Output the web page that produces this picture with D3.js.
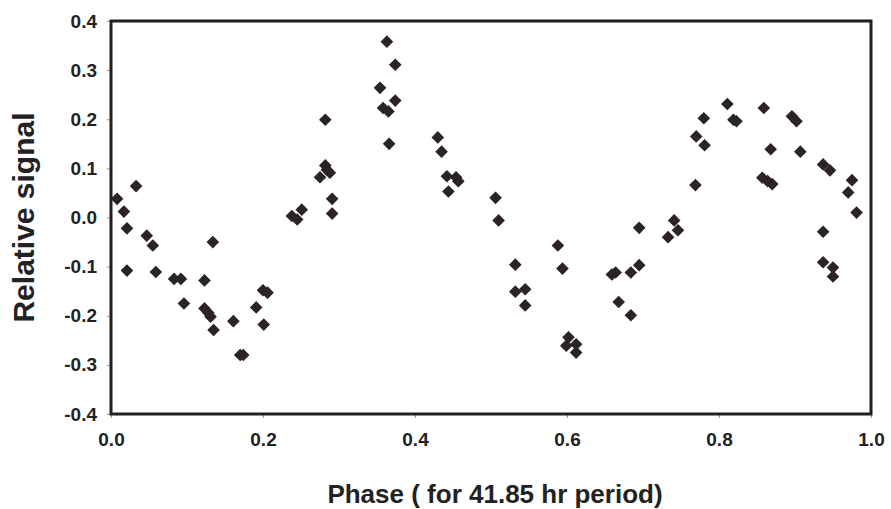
<!DOCTYPE html>
<html>
<head>
<meta charset="utf-8">
<script src="https://cdn.jsdelivr.net/npm/d3@7"></script>
<style>
  body { margin: 0; background: #fff; }
</style>
</head>
<body>
<div class="container"></div>
<script>
// data
var phase = [0.008, 0.017, 0.021, 0.021, 0.033, 0.047, 0.055, 0.059, 0.083, 0.092,
  0.096, 0.123, 0.123, 0.128, 0.131, 0.134, 0.135, 0.161, 0.170, 0.174,
  0.191, 0.200, 0.201, 0.206, 0.238, 0.245, 0.251, 0.275, 0.282, 0.282,
  0.284, 0.288, 0.291, 0.291, 0.354, 0.358, 0.363, 0.365, 0.366, 0.374,
  0.374, 0.430, 0.435, 0.442, 0.444, 0.454, 0.457, 0.506, 0.510, 0.532,
  0.532, 0.545, 0.545, 0.588, 0.594, 0.599, 0.602, 0.612, 0.612, 0.659,
  0.664, 0.668, 0.684, 0.684, 0.695, 0.695, 0.733, 0.741, 0.746, 0.769,
  0.770, 0.780, 0.781, 0.811, 0.819, 0.823, 0.857, 0.859, 0.864, 0.868,
  0.870, 0.896, 0.902, 0.907, 0.937, 0.937, 0.937, 0.946, 0.950, 0.950,
  0.970, 0.975, 0.981];
var signal = [0.038, 0.012, -0.022, -0.108, 0.064, -0.037, -0.057, -0.111, -0.125, -0.125,
  -0.175, -0.128, -0.185, -0.194, -0.202, -0.050, -0.229, -0.211, -0.280, -0.280,
  -0.183, -0.148, -0.218, -0.153, 0.003, -0.004, 0.016, 0.082, 0.199, 0.106,
  0.097, 0.091, 0.038, 0.008, 0.264, 0.223, 0.358, 0.216, 0.150, 0.311,
  0.238, 0.163, 0.134, 0.084, 0.053, 0.082, 0.074, 0.040, -0.006, -0.096,
  -0.151, -0.146, -0.179, -0.057, -0.104, -0.261, -0.244, -0.258, -0.275, -0.116,
  -0.112, -0.172, -0.112, -0.199, -0.097, -0.021, -0.040, -0.006, -0.026, 0.066,
  0.165, 0.202, 0.147, 0.231, 0.199, 0.196, 0.081, 0.223, 0.074, 0.139,
  0.068, 0.206, 0.196, 0.134, 0.108, -0.029, -0.091, 0.096, -0.102, -0.120,
  0.051, 0.076, 0.010];
var xTicks = [0, 0.2, 0.4, 0.6, 0.8, 1.0];
var yTicks = [-0.4, -0.3, -0.2, -0.1, 0, 0.1, 0.2, 0.3, 0.4];

var margin = {top: 21, right: 20, bottom: 95, left: 111},
    width = 891,
    height = 509;

var svg = d3.select(".container").append("svg")
    .attr("width", width)
    .attr("height", height);

var x = d3.scaleLinear().domain([0, 1]).range([margin.left, width - margin.right]);
var y = d3.scaleLinear().domain([-0.4, 0.4]).range([height - margin.bottom, margin.top]);

// plain hyphen for negatives, like the original
var fmt = d => d.toFixed(1).replace("-0.0", "0.0");

var data = phase.map((p, i) => ({p: p, s: signal[i]}));

// y axis
svg.append("g")
    .attr("transform", `translate(${margin.left},0)`)
    .call(d3.axisLeft(y).tickValues(yTicks).tickFormat(fmt).tickSize(4).tickPadding(10))
    .call(g => g.select(".domain").remove())
    .call(g => g.selectAll(".tick line").attr("stroke", "#999"))
    .call(g => g.selectAll("text")
        .style("font", "bold 19px 'Liberation Sans', Arial, sans-serif")
        .attr("fill", "#222"));

// x axis
svg.append("g")
    .attr("transform", `translate(0,${height - margin.bottom})`)
    .call(d3.axisBottom(x).tickValues(xTicks).tickFormat(fmt).tickSize(4).tickPadding(15))
    .call(g => g.select(".domain").remove())
    .call(g => g.selectAll(".tick line").attr("stroke", "#999"))
    .call(g => g.selectAll("text")
        .style("font", "bold 19px 'Liberation Sans', Arial, sans-serif")
        .attr("fill", "#222"));

// frame
svg.append("rect")
    .attr("x", x(0))
    .attr("y", y(0.4))
    .attr("width", x(1) - x(0))
    .attr("height", y(-0.4) - y(0.4))
    .attr("fill", "none")
    .attr("stroke", "#231f20")
    .attr("stroke-width", 3);

// points
svg.append("g")
  .selectAll("path")
  .data(data)
  .join("path")
    .attr("transform", d => `translate(${x(d.p)},${y(d.s)}) rotate(45)`)
    .attr("d", d3.symbol(d3.symbolSquare, 80))
    .attr("fill", "#2b2325");

// axis titles
svg.append("text")
    .attr("transform", `translate(34,${(y(0.4) + y(-0.4)) / 2}) rotate(-90)`)
    .attr("text-anchor", "middle")
    .style("font", "bold 30px 'Liberation Sans', Arial, sans-serif")
    .attr("fill", "#222")
    .text("Relative signal");

svg.append("text")
    .attr("x", 495)
    .attr("y", 503)
    .attr("text-anchor", "middle")
    .style("font", "bold 26px 'Liberation Sans', Arial, sans-serif")
    .attr("fill", "#222")
    .text("Phase ( for 41.85 hr period)");
</script>
</body>
</html>
